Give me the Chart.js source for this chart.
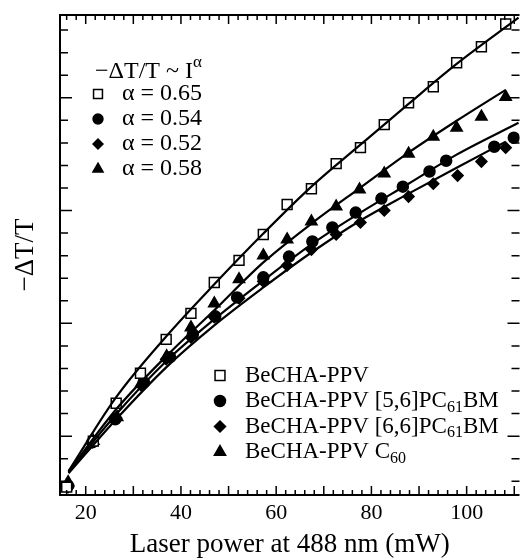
<!DOCTYPE html>
<html>
<head>
<meta charset="utf-8">
<script src="https://cdn.jsdelivr.net/npm/chart.js@4"></script>
<style>
  body { margin: 0; background: #fff; }
  #wrap { width: 528px; height: 560px; }
</style>
</head>
<body>
<div id="wrap"><canvas id="chart" width="528" height="560"></canvas></div>
<script>
// measured points (laser power in mW, -dT/T in arbitrary units)
const sqX = [16, 21.6, 26.4, 31.5, 36.9, 42.1, 47, 52.2, 57.3, 62.3, 67.4, 72.6, 77.7, 82.7, 87.8, 93, 97.9, 103.1, 108.2];
const sqY = [2.74, 4.78, 6.46, 7.79, 9.29, 10.44, 11.81, 12.79, 13.94, 15.27, 15.97, 17.08, 17.79, 18.81, 19.78, 20.49, 21.55, 22.26, 23.27];

const cirX = [16.3, 21.4, 26.2, 32.2, 37.7, 42.5, 47.2, 51.8, 57.3, 62.7, 67.6, 71.8, 76.7, 82.1, 86.6, 92.2, 95.7, 105.8, 109.9];
const cirY = [2.79, 4.73, 5.75, 7.39, 8.5, 9.51, 10.31, 11.15, 12.04, 12.96, 13.63, 14.25, 14.91, 15.53, 16.06, 16.73, 17.21, 17.83, 18.23];

const diaX = [16.3, 21.4, 26.4, 31.8, 36.9, 42.1, 47, 52.2, 57.3, 62.3, 67.4, 72.6, 77.7, 82.7, 87.8, 93, 98.1, 103.1, 108.2];
const diaY = [2.74, 4.73, 5.8, 7.21, 8.41, 9.38, 10.27, 11.11, 11.86, 12.57, 13.27, 13.94, 14.47, 15.0, 15.62, 16.19, 16.55, 17.17, 17.79];

const triX = [16.3, 21.6, 26.6, 31.7, 37, 42.1, 47, 52.2, 57.3, 62.3, 67.4, 72.6, 77.5, 82.7, 87.8, 93, 97.9, 103.1, 108.2];
const triY = [2.96, 4.78, 5.84, 7.35, 8.54, 9.82, 10.88, 11.95, 13.01, 13.72, 14.51, 15.18, 15.93, 16.64, 17.52, 18.27, 18.67, 19.16, 20.04];

// fitted power-law curves
const fitSqX = [16.4, 26.4, 36.9, 47, 57.3, 67.4, 77.7, 87.8, 97.9, 110.9];
const fitSqY = [3.45, 6.73, 9.42, 11.73, 13.98, 16.06, 17.92, 19.73, 21.5, 23.55];
const fitCirX = [16.4, 26.4, 36.9, 47, 57.3, 67.4, 77.7, 87.8, 97.9, 110.9];
const fitCirY = [3.4, 5.97, 8.32, 10.18, 11.9, 13.5, 14.91, 16.19, 17.48, 18.89];
const fitDiaX = [16.4, 26.4, 36.9, 47, 57.3, 67.4, 77.7, 87.8, 97.9, 108.2];
const fitDiaY = [3.35, 5.75, 8.05, 9.91, 11.59, 13.14, 14.56, 15.75, 16.9, 18.05];
const fitTriX = [16.4, 26.4, 36.9, 47, 57.3, 67.4, 77.7, 87.8, 97.9, 108.2];
const fitTriY = [3.42, 6.19, 8.54, 10.58, 12.7, 14.42, 16.02, 17.57, 18.98, 20.35];

const alphas = ['0.65', '0.54', '0.52', '0.58'];
const markerStyles = ['rect', 'circle', 'rectRot', 'triangle'];
const sampleNames = [
  [{t: 'BeCHA-PPV'}],
  [{t: 'BeCHA-PPV [5,6]PC'}, {t: '61', sub: true}, {t: 'BM'}],
  [{t: 'BeCHA-PPV [6,6]PC'}, {t: '61', sub: true}, {t: 'BM'}],
  [{t: 'BeCHA-PPV C'}, {t: '60', sub: true}]
];

const FONT = "'Liberation Serif', 'Times New Roman', serif";

const pts = (xs, ys) => xs.map((x, i) => ({x: x, y: ys[i]}));

function markerSet(xs, ys, style, radius, open) {
  return {
    data: pts(xs, ys),
    showLine: false,
    pointStyle: style,
    pointRadius: radius,
    pointBorderWidth: 1.5,
    pointBorderColor: '#000',
    pointBackgroundColor: open ? '#fff' : '#000'
  };
}
function fitSet(xs, ys) {
  return {
    data: pts(xs, ys),
    showLine: true,
    borderColor: '#000',
    borderWidth: 2.2,
    pointRadius: 0,
    cubicInterpolationMode: 'monotone'
  };
}

function drawMarker(ctx, style, x, y, r, open) {
  ctx.beginPath();
  if (style === 'rect') {
    const s = r * Math.SQRT1_2;
    ctx.rect(x - s, y - s, 2 * s, 2 * s);
  } else if (style === 'circle') {
    ctx.arc(x, y, r, 0, Math.PI * 2);
  } else if (style === 'rectRot') {
    ctx.moveTo(x - r, y); ctx.lineTo(x, y - r); ctx.lineTo(x + r, y); ctx.lineTo(x, y + r);
    ctx.closePath();
  } else {
    ctx.moveTo(x, y - r);
    ctx.lineTo(x + r * Math.sin(2 * Math.PI / 3), y - r * Math.cos(2 * Math.PI / 3));
    ctx.lineTo(x + r * Math.sin(4 * Math.PI / 3), y - r * Math.cos(4 * Math.PI / 3));
    ctx.closePath();
  }
  ctx.fillStyle = open ? '#fff' : '#000';
  ctx.fill();
  ctx.lineWidth = 1.5;
  ctx.strokeStyle = '#000';
  ctx.stroke();
}

function drawParts(ctx, parts, x, y, size) {
  parts.forEach(p => {
    if (p.sub || p.sup) {
      ctx.font = Math.round(size * 0.7) + 'px ' + FONT;
      const dy = p.sub ? size * 0.28 : -size * 0.38;
      ctx.fillText(p.t, x, y + dy);
    } else {
      ctx.font = size + 'px ' + FONT;
      ctx.fillText(p.t, x, y);
    }
    x += ctx.measureText(p.t).width;
  });
}

const radii = [7, 5.5, 5.5, 6.5];

// frame, inward ticks and the two legends
const framePlugin = {
  id: 'frame',
  afterDraw(chart) {
    const {ctx, chartArea: a, scales: {x, y}} = chart;
    ctx.save();
    ctx.strokeStyle = '#000';
    ctx.lineWidth = 2;
    ctx.beginPath();
    ctx.moveTo(a.right, a.top); ctx.lineTo(a.left, a.top);
    ctx.lineTo(a.left, a.bottom); ctx.lineTo(a.right, a.bottom);
    ctx.stroke();

    ctx.lineWidth = 1.5;
    ctx.beginPath();
    x.ticks.forEach(t => {
      const px = x.getPixelForValue(t.value);
      const major = Math.abs(t.value / 10 - Math.round(t.value / 10)) < 1e-6;
      const len = major ? 9 : 5;
      ctx.moveTo(px, a.bottom); ctx.lineTo(px, a.bottom - len);
      ctx.moveTo(px, a.top); ctx.lineTo(px, a.top + len);
    });
    y.ticks.forEach(t => {
      const py = y.getPixelForValue(t.value);
      const major = Math.abs(t.value / 5 - Math.round(t.value / 5)) < 1e-6;
      const len = major ? 12 : 8;
      ctx.moveTo(a.left, py); ctx.lineTo(a.left + len, py);
      ctx.moveTo(a.right, py); ctx.lineTo(a.right - len, py);
    });
    ctx.stroke();

    // fit legend
    ctx.fillStyle = '#000';
    ctx.textBaseline = 'middle';
    ctx.textAlign = 'left';
    drawParts(ctx, [{t: '\u2212\u0394T/T ~ I'}, {t: '\u03b1', sup: true}], 95, 72, 24);
    alphas.forEach((al, i) => {
      const ry = 94 + i * 25;
      drawMarker(ctx, markerStyles[i], 98, ry, radii[i] * 0.9, i === 0);
      ctx.fillStyle = '#000';
      drawParts(ctx, [{t: '\u03b1 = ' + al}], 122, ry, 24);
    });

    // sample legend
    sampleNames.forEach((parts, i) => {
      const ry = 375.5 + i * 25.5;
      drawMarker(ctx, markerStyles[i], 220, ry, radii[i], i === 0);
      ctx.fillStyle = '#000';
      drawParts(ctx, parts, 245, ry, 23);
    });
    ctx.restore();
  }
};

new Chart(document.getElementById('chart'), {
  type: 'scatter',
  data: {
    datasets: [
      fitSet(fitSqX, fitSqY),
      fitSet(fitCirX, fitCirY),
      fitSet(fitDiaX, fitDiaY),
      fitSet(fitTriX, fitTriY),
      markerSet(sqX, sqY, 'rect', 7, true),
      markerSet(cirX, cirY, 'circle', 5.5, false),
      markerSet(diaX, diaY, 'rectRot', 5.5, false),
      markerSet(triX, triY, 'triangle', 6.5, false)
    ]
  },
  options: {
    responsive: false,
    animation: false,
    layout: { padding: { top: 15, right: 0, left: 0, bottom: 0 } },
    plugins: { legend: { display: false }, tooltip: { enabled: false } },
    scales: {
      x: {
        type: 'linear',
        min: 14.6,
        max: 111.1,
        grid: { display: false, drawTicks: false },
        border: { display: false },
        ticks: {
          stepSize: 2,
          includeBounds: false,
          autoSkip: false,
          maxRotation: 0,
          padding: 5,
          color: '#000',
          font: { family: FONT, size: 22 },
          callback: v => (Math.abs(v / 20 - Math.round(v / 20)) < 1e-6 ? String(Math.round(v)) : '')
        },
        title: {
          display: true,
          text: 'Laser power at 488 nm (mW)',
          color: '#000',
          font: { family: FONT, size: 27, lineHeight: 1 },
          padding: { top: 0, bottom: 1.5 }
        },
        afterFit: s => { s.height = 65; }
      },
      y: {
        type: 'linear',
        min: 2.39,
        max: 23.67,
        grid: { display: false, drawTicks: false },
        border: { display: false },
        ticks: { display: false, stepSize: 1, includeBounds: false },
        title: {
          display: true,
          text: '\u2212\u0394T/T',
          color: '#000',
          font: { family: FONT, size: 27, lineHeight: 1 },
          padding: { top: 12.5, bottom: 0 }
        },
        afterFit: s => { s.width = 60; }
      }
    }
  },
  plugins: [framePlugin]
});
</script>
</body>
</html>
